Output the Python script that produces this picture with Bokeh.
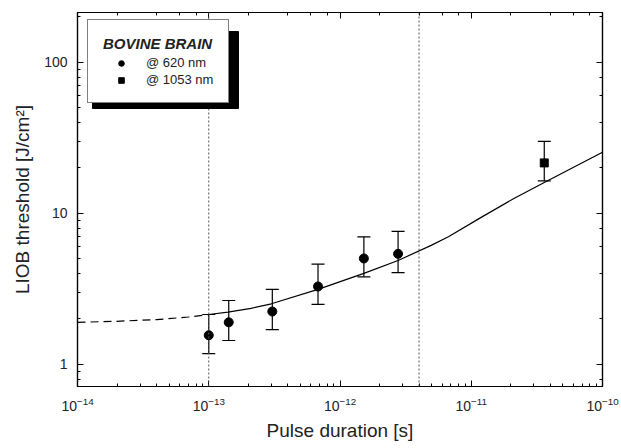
from bokeh.plotting import figure
from bokeh.models import (LogAxis, Legend, LegendItem, Whisker, TeeHead,
                          ColumnDataSource, Span, PrintfTickFormatter, BoxAnnotation)
from bokeh.embed import file_html
from bokeh.resources import INLINE

# ---- data ----
tau_620 = [1.0e-13, 1.42e-13, 3.05e-13, 6.8e-13, 1.52e-12, 2.77e-12]
F_620 = [1.56, 1.90, 2.24, 3.28, 5.03, 5.40]
F_620_hi = [2.14, 2.65, 3.14, 4.62, 7.0, 7.6]
F_620_lo = [1.18, 1.44, 1.70, 2.50, 3.80, 4.05]

tau_1053 = [3.6e-11]
F_1053 = [21.6]
F_1053_hi = [30.0]
F_1053_lo = [16.4]

fit_tau_dashed = [1e-14, 2e-14, 4e-14, 7e-14, 1e-13]
fit_F_dashed = [1.90, 1.93, 1.98, 2.06, 2.14]
fit_tau = [1e-13, 1.4e-13, 2.1e-13, 3e-13, 6.8e-13, 1.52e-12, 2.77e-12,
           4.95e-12, 6.7e-12, 1.19e-11, 2.13e-11, 3.6e-11, 1e-10]
fit_F = [2.14, 2.22, 2.35, 2.52, 3.14, 4.01, 4.88,
         6.14, 7.0, 9.41, 12.6, 16.0, 25.4]

vlines_tau = [1e-13, 4e-12]

x_lim = (1e-14, 1e-10)
y_lim = (0.714, 214)

FONT = "Liberation Sans"

p = figure(x_axis_type="log", y_axis_type="log", x_range=x_lim, y_range=y_lim,
           frame_width=525, frame_height=374,
           min_border_left=77, min_border_right=19, min_border_top=12,
           min_border_bottom=62,
           output_backend="svg", toolbar_location=None)
p.xgrid.visible = False
p.ygrid.visible = False
p.outline_line_color = "black"
p.outline_line_width = 1.2
p.background_fill_color = "white"
p.border_fill_color = "white"


def style(ax):
    ax.axis_line_color = "black"
    ax.axis_line_width = 1.2
    ax.major_tick_in = 6
    ax.major_tick_out = 0
    ax.minor_tick_in = 3
    ax.minor_tick_out = 0
    ax.major_tick_line_color = "black"
    ax.minor_tick_line_color = "black"
    ax.major_label_text_font = FONT
    ax.major_label_text_font_size = "14px"
    ax.major_label_text_color = "#222222"
    ax.axis_label_text_font = FONT
    ax.axis_label_text_font_size = "19px"
    ax.axis_label_text_font_style = "normal"
    ax.axis_label_text_color = "#222222"


style(p.xaxis[0])
style(p.yaxis[0])
p.xaxis.axis_label = "Pulse duration [s]"
p.yaxis.axis_label = "LIOB threshold [J/cm²]"
p.xaxis.major_label_standoff = 10
p.yaxis.major_label_standoff = 10
p.xaxis.axis_label_standoff = 6
p.yaxis.axis_label_standoff = 8
p.yaxis.formatter = PrintfTickFormatter(format="%g")

top = LogAxis()
right = LogAxis()
for ax in (top, right):
    style(ax)
    ax.major_label_text_font_size = "1px"
    ax.major_label_text_alpha = 0
    ax.major_label_standoff = 0
p.add_layout(top, "above")
p.add_layout(right, "right")

for v in vlines_tau:
    p.add_layout(Span(location=v, dimension="height", line_color="#555555",
                      line_width=1, line_dash="2 2"))

p.line(fit_tau_dashed, fit_F_dashed, line_color="black", line_width=1.2,
       line_dash="8 5")
p.line(fit_tau, fit_F, line_color="black", line_width=1.2)

src620 = ColumnDataSource(dict(x=tau_620, y=F_620, hi=F_620_hi, lo=F_620_lo))
src1053 = ColumnDataSource(dict(x=tau_1053, y=F_1053, hi=F_1053_hi, lo=F_1053_lo))
for src in (src620, src1053):
    p.add_layout(Whisker(source=src, base="x", upper="hi", lower="lo",
                         line_color="black", line_width=1.2,
                         upper_head=TeeHead(size=13, line_color="black", line_width=1.2),
                         lower_head=TeeHead(size=13, line_color="black", line_width=1.2)))

r1 = p.scatter("x", "y", source=src620, marker="circle", size=9,
               fill_color="black", line_color="black")
r2 = p.scatter("x", "y", source=src1053, marker="square", size=8,
               fill_color="black", line_color="black")

# drop shadow behind the legend box (screen units, relative to the frame)
p.add_layout(BoxAnnotation(left=15, right=161, bottom=278, top=355,
                           left_units="screen", right_units="screen",
                           bottom_units="screen", top_units="screen",
                           fill_color="black", fill_alpha=1,
                           line_color="black", line_alpha=1))

lg = Legend(items=[LegendItem(label="@ 620 nm", renderers=[r1]),
                   LegendItem(label="@ 1053 nm", renderers=[r2])],
            title="BOVINE BRAIN", location=(10, 283))
lg.padding = 15
lg.spacing = 2
lg.margin = 0
lg.glyph_width = 36
lg.glyph_height = 14
lg.label_height = 14
lg.label_standoff = 7
lg.label_text_font = FONT
lg.label_text_font_size = "13px"
lg.title_text_font = FONT
lg.title_text_font_size = "15px"
lg.title_text_font_style = "bold italic"
lg.title_standoff = 3
lg.border_line_color = "black"
lg.border_line_width = 1.2
lg.background_fill_color = "white"
lg.background_fill_alpha = 1
lg.label_text_color = "#222222"
lg.title_text_color = "#222222"
p.add_layout(lg, "center")

open("out.html", "w").write(file_html(p, INLINE))
